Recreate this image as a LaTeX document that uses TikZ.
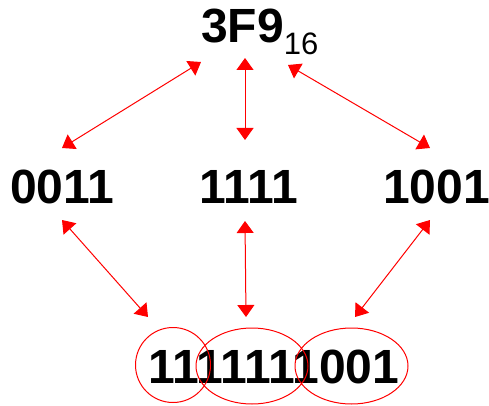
\documentclass[tikz,border=0pt]{standalone}
\usepackage{fontspec}
\setmainfont{Liberation Sans}
\usetikzlibrary{arrows.meta}
\tikzset{
  num/.style={font=\fontsize{48}{48}\selectfont\bfseries, inner sep=0pt, anchor=base west},
  link/.style={red, line width=1pt, {Triangle[length=12pt,width=17pt]}-{Triangle[length=12pt,width=17pt]}},
  ring/.style={red, line width=1pt}
}
\begin{document}
\begin{tikzpicture}[x=1pt,y=-1pt]
\useasboundingbox (0,0) rectangle (489,406);
% texts
\node[num] (hex) at (201,43) {3F9\raisebox{-12pt}{\fontsize{31}{31}\selectfont\mdseries 16}};
\node[num] (a) at (10,203) {0011};
\node[num] (b) at (199,203) {1111};
\node[num] (c) at (383,203) {1001\kern-6pt};
\node[num] (bin) at (148,383) {1111111001};
% arrow end points
\coordinate (h1) at (201,62);
\coordinate (h2) at (245,58);
\coordinate (h3) at (288,65);
\coordinate (a1) at (62,148);
\coordinate (b1) at (245,140);
\coordinate (c1) at (430,148);
\coordinate (a2) at (62,220);
\coordinate (b2) at (245,221);
\coordinate (c2) at (430,220);
\coordinate (g1) at (148,317);
\coordinate (g2) at (246,317);
\coordinate (g3) at (355,317);
% arrows
\draw[link] (a1) -- (h1);
\draw[link] (b1) -- (h2);
\draw[link] (c1) -- (h3);
\draw[link] (a2) -- (g1);
\draw[link] (b2) -- (g2);
\draw[link] (c2) -- (g3);
% groups
\draw[ring] (173,365) ellipse [x radius=37.5, y radius=37.5];
\draw[ring] (252,366) ellipse [x radius=56, y radius=38];
\draw[ring] (351.5,366) ellipse [x radius=56.5, y radius=38];
\end{tikzpicture}
\end{document}
